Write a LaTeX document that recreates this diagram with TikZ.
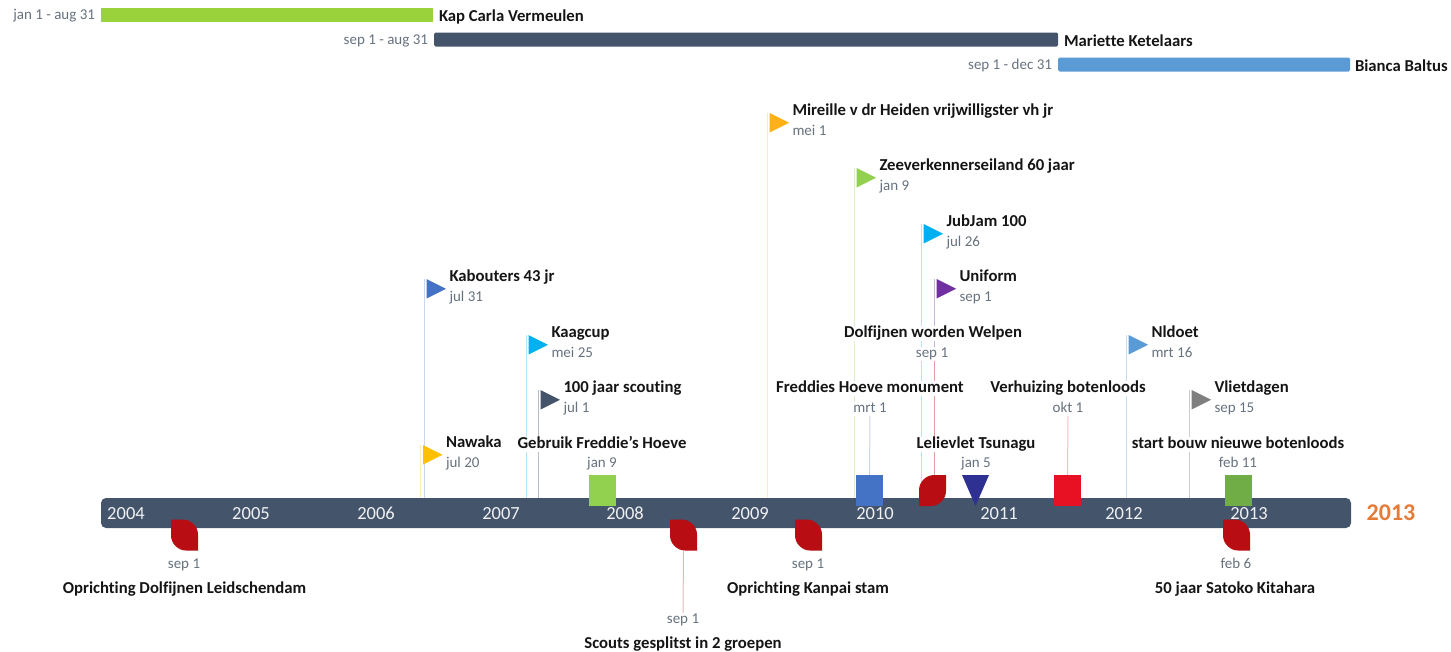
\documentclass[tikz,border=0pt]{standalone}
\usepackage{fontspec}
\setmainfont[Ligatures=CommonOff,Numbers=Lining]{Carlito}
\usetikzlibrary{calc,backgrounds}
\definecolor{slate}{HTML}{44546A}
\definecolor{leafred}{HTML}{B80D12}
\definecolor{datecol}{HTML}{66727F}
\definecolor{titlecol}{HTML}{151515}
\definecolor{cnawaka}{HTML}{FFC000}
\definecolor{ckabout}{HTML}{4472C4}
\definecolor{ckaag}{HTML}{00B0F0}
\definecolor{cmireille}{HTML}{FFB014}
\definecolor{czeever}{HTML}{92D050}
\definecolor{cuniform}{HTML}{7030A0}
\definecolor{cnldoet}{HTML}{5B9BD5}
\definecolor{cvliet}{HTML}{7F7F7F}
\definecolor{cspan}{HTML}{9AD23C}
\definecolor{cgebruik}{HTML}{92D050}
\definecolor{ctsunagu}{HTML}{2E3192}
\definecolor{cboten}{HTML}{E81123}
\definecolor{cbouw}{HTML}{70AD47}
\definecolor{cend}{HTML}{E47C38}
\tikzset{
  x=1pt,y=-1pt,
  every node/.style={inner sep=0pt,outer sep=0pt},
  titletxt/.style={font=\fontsize{16.7}{18}\bfseries,text=titlecol,text height=11.5pt,text depth=3.5pt,yshift=-2pt},
  datetxt/.style={font=\fontsize{15}{17}\selectfont,text=datecol,text height=10.5pt,text depth=3pt,yshift=-1pt},
  maskt/.style={fill=white,inner xsep=1pt,inner ysep=0pt},
  yeartxt/.style={font=\fontsize{18.5}{20}\selectfont,text=white!92!slate},
  spanbar/.style={minimum height=14pt,anchor=west},
  marker/.style={minimum width=27pt,minimum height=31pt,anchor=north west},
  stemline/.style={line width=1pt},
}
% id, x, top y, colour, mix percentage, title, date
\newcommand{\flagev}[7]{%
  \coordinate (#1) at (#2,#3);
  \begin{pgfonlayer}{background}
    \draw[stemline,#4!#5!white] (#1) -- (#1 |- bar.north);
  \end{pgfonlayer}
  \fill[#4] (#1) ++(2.5,0) -- ++(19.5,9.75) -- ++(-19.5,9.75) -- cycle;
  \node[titletxt,anchor=west] (#1-t) at ($(#1)+(25.5,-4)$) {#6};
  \node[datetxt,anchor=west] (#1-d) at ($(#1)+(25.5,18)$) {#7};
}
% id, x centre title, y title, x centre date, y date, title, date
\newcommand{\labelev}[7]{%
  \node[titletxt,maskt] (#1-t) at (#2,#3) {#6};
  \node[datetxt,maskt] (#1-d) at (#4,#5) {#7};
}
\newcommand{\leafup}[2]{% id, x left
  \node[marker] (#1) at (#2,475) {};
  \fill[leafred] ($(#1.north west)+(0,15)$) .. controls ($(#1.north west)+(0,7)$) and ($(#1.north west)+(7,0)$) .. ($(#1.north west)+(15,0)$)
    -- (#1.north east) -- ($(#1.south east)+(0,-15)$) .. controls ($(#1.south east)+(0,-7)$) and ($(#1.south east)+(-7,0)$) .. ($(#1.south east)+(-15,0)$)
    -- (#1.south west) -- cycle;
}
\newcommand{\leafdown}[2]{% id, x left
  \node[marker] (#1) at (#2,519.5) {};
  \fill[leafred] (#1.north west) -- ($(#1.north east)+(-15,0)$) .. controls ($(#1.north east)+(-7,0)$) and ($(#1.north east)+(0,7)$) .. ($(#1.north east)+(0,15)$)
    -- (#1.south east) -- ($(#1.south west)+(15,0)$) .. controls ($(#1.south west)+(7,0)$) and ($(#1.south west)+(0,-7)$) .. ($(#1.south west)+(0,-15)$) -- cycle;
}
\begin{document}
\begin{tikzpicture}
\useasboundingbox (0,0) rectangle (1451,651);
% span bars
\node[spanbar,fill=cspan,minimum width=332pt] (s1) at (101,14.5) {};
\node[spanbar,fill=slate,minimum width=624pt,rounded corners=1.5pt] (s2) at (434,39.5) {};
\node[spanbar,fill=cnldoet,minimum width=292pt,rounded corners=1.5pt] (s3) at (1058,64.5) {};
\node[titletxt,anchor=west] (s1t) at ($(s1.east)+(6,0.5)$) {Kap Carla Vermeulen};
\node[datetxt,anchor=east] (s1d) at ($(s1.west)+(-6,0.5)$) {jan 1 - aug 31};
\node[titletxt,anchor=west] (s2t) at ($(s2.east)+(6,0.5)$) {Mariette Ketelaars};
\node[datetxt,anchor=east] (s2d) at ($(s2.west)+(-6,0.5)$) {sep 1 - aug 31};
\node[titletxt,anchor=west] (s3t) at ($(s3.east)+(5,0.5)$) {Bianca Baltus};
\node[datetxt,anchor=east] (s3d) at ($(s3.west)+(-6,0.5)$) {sep 1 - dec 31};
% timeline
\node[fill=slate,rounded corners=5pt,minimum width=1250pt,minimum height=30pt,anchor=north west] (bar) at (101,498) {};
\node[font=\fontsize{24}{26}\selectfont,text=cend,anchor=center] (endyear) at (1391,513) {\textbf{2013}};
% flags
\flagev{nawaka}{420.5}{445}{cnawaka}{30}{Nawaka}{jul 20}
\flagev{kabout}{424}{279}{ckabout}{30}{Kabouters 43 jr}{jul 31}
\flagev{kaag}{526}{335}{ckaag}{30}{Kaagcup}{mei 25}
\flagev{honderd}{538}{390}{slate}{40}{100 jaar scouting}{jul 1}
\flagev{mireille}{767}{113}{cmireille}{28}{Mireille v dr Heiden vrijwilligster vh jr}{mei 1}
\flagev{zeever}{854}{168}{czeever}{32}{Zeeverkennerseiland 60 jaar}{jan 9}
\flagev{jubjam}{921}{224}{ckaag}{30}{JubJam 100}{jul 26}
\flagev{uniform}{934}{279}{cuniform}{35}{Uniform}{sep 1}
\flagev{nldoet}{1126}{335}{cnldoet}{35}{Nldoet}{mrt 16}
\flagev{vliet}{1189}{390}{cvliet}{40}{Vlietdagen}{sep 15}
% events above the bar
\labelev{gebruik}{602}{442}{602}{463}{Gebruik Freddie's Hoeve}{jan 9}
\labelev{monument}{870}{386}{870}{408}{Freddies Hoeve monument}{mrt 1}
\labelev{welpen}{933}{331}{932}{353}{Dolfijnen worden Welpen}{sep 1}
\labelev{tsunagu}{976}{442}{976}{463}{Lelievlet Tsunagu}{jan 5}
\labelev{boten}{1068}{386}{1068}{408}{Verhuizing botenloods}{okt 1}
\labelev{bouw}{1238}{442}{1238}{463}{start bouw nieuwe botenloods}{feb 11}
\node[marker,fill=cgebruik] (mgebruik) at (589,475) {};
\node[marker,fill=ckabout] (mmonument) at (856,475) {};
\leafup{mwelpen}{919}
\node[marker] (mtsunagu) at (962,475) {};
\fill[ctsunagu] (mtsunagu.north west) -- (mtsunagu.north east) -- (mtsunagu.south) -- cycle;
\node[marker,fill=cboten] (mboten) at (1054,475) {};
\node[marker,fill=cbouw] (mbouw) at (1225,475) {};
\begin{pgfonlayer}{background}
  \draw[stemline,ckabout!30!white] (mmonument.north) -- (monument-d.south);
  \draw[stemline,leafred!40!white] (mwelpen.north -| uniform) -- (welpen-d.south -| uniform);
  \draw[stemline,cboten!28!white] (mboten.north) -- (boten-d.south);
\end{pgfonlayer}
% events below the bar
\leafdown{mdolf}{171}
\leafdown{msplit}{670}
\leafdown{mkanpai}{795}
\leafdown{msatoko}{1223}
\labelev{dolf}{184.5}{587}{184}{564}{Oprichting Dolfijnen Leidschendam}{sep 1}
\labelev{split}{683}{642}{683}{619}{Scouts gesplitst in 2 groepen}{sep 1}
\labelev{kanpai}{808}{587}{808}{564}{Oprichting Kanpai stam}{sep 1}
\labelev{satoko}{1235}{587}{1236}{564}{50 jaar Satoko Kitahara}{feb 6}
\begin{pgfonlayer}{background}
  \draw[stemline,leafred!30!white] (msplit.south) -- (split-d.north);
\end{pgfonlayer}
% years
\foreach \yr/\xx in {2004/126,2005/251,2006/376,2007/501,2008/625,2009/750,2010/875,2011/999,2012/1124,2013/1249}
  \node[yeartxt] (y\yr) at (\xx,513.5) {\yr};
\end{tikzpicture}
\end{document}
